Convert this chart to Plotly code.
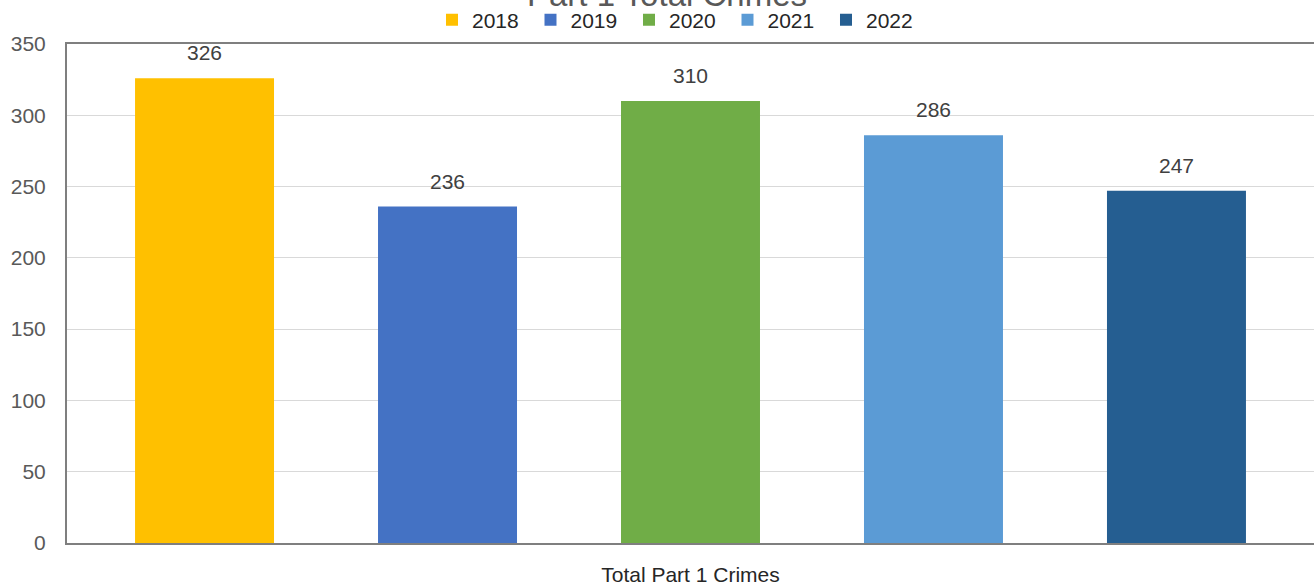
import plotly.graph_objects as go

category = "Total Part 1 Crimes"
years = ["2018", "2019", "2020", "2021", "2022"]
values = [326, 236, 310, 286, 247]
colors = ["#FFC000", "#4472C4", "#70AD47", "#5B9BD5", "#255E91"]
y_ticks = [0, 50, 100, 150, 200, 250, 300, 350]

FONT = "Liberation Sans"
FS = 21

fig = go.Figure()
for i, (yr, v, c) in enumerate(zip(years, values, colors)):
    fig.add_trace(go.Bar(
        name=yr, x=[yr], y=[v], marker_color=c, marker_line_width=0,
        hoverinfo="name+y",
    ))
    fig.add_annotation(
        x=i, y=v, xref="x", yref="y", text=str(v), showarrow=False,
        yanchor="bottom", yshift=12,
        font=dict(family=FONT, size=FS, color="#404040"),
    )

fig.add_annotation(
    text="Part 1 Total Crimes", xref="paper", yref="paper",
    x=0.481, y=1.058, xanchor="center", yanchor="bottom", showarrow=False,
    font=dict(family=FONT, size=33, color="#595959"),
)

fig.update_layout(
    width=1314, height=587,
    margin=dict(l=67, r=0, t=44, b=44, autoexpand=False),
    paper_bgcolor="white", plot_bgcolor="white",
    barmode="overlay", bargap=0.428,
    showlegend=True,
    legend=dict(orientation="h", x=0.2927, xanchor="left", y=1.048, yanchor="middle",
                font=dict(family=FONT, size=FS, color="#262626"),
                entrywidth=53.5, entrywidthmode="pixels", traceorder="normal",
                bgcolor="rgba(0,0,0,0)"),
    font=dict(family=FONT),
)
fig.update_yaxes(
    range=[0, 350], tickvals=y_ticks, showgrid=True, gridcolor="#D9D9D9", gridwidth=1,
    showline=True, linecolor="#7F7F7F", linewidth=2, mirror=True,
    tickfont=dict(family=FONT, size=FS, color="#595959"), ticks="", ticklabelstandoff=15,
    zeroline=False,
)
fig.update_xaxes(
    type="category", range=[-0.566, 4.566], showticklabels=False, ticks="",
    showline=True, linecolor="#7F7F7F", linewidth=2, mirror=True,
    title=dict(text=category, standoff=23, font=dict(family=FONT, size=FS, color="#262626")),
)

fig.write_html(
    "out.html",
    config={"displayModeBar": False},
    post_script="document.body.style.margin='0';document.body.style.overflow='hidden';",
)
